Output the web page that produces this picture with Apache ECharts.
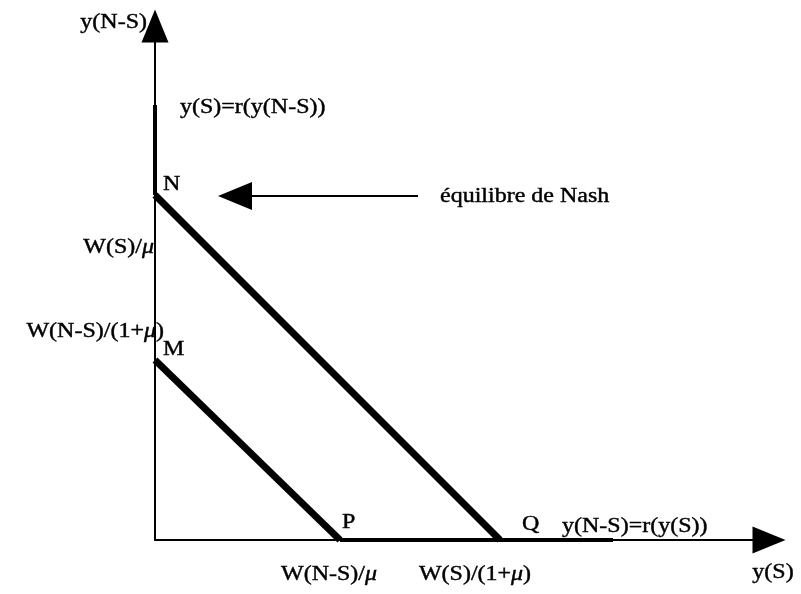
<!DOCTYPE html>
<html><head><meta charset="utf-8">
<script src="https://cdn.jsdelivr.net/npm/echarts@6/dist/echarts.min.js"></script>
<style>html,body{margin:0;padding:0;background:#fff}#c{width:801px;height:594px}</style>
</head><body><div id="c"></div>
<script>
// Diagram data (axis units)
const lineNQ = [[0, 345], [345, 0]];          // N -> Q
const lineMP = [[0, 180], [185, 0]];          // M -> P
const reactS = [[0, 345], [0, 435]];          // y(S)=r(y(N-S)) vertical part
const reactNS = [[185, 0], [458, 0]];         // y(N-S)=r(y(S)) horizontal part
const nashArrow = [[263, 344], [80, 344]];    // arrow pointing to N
// Annotation texts and anchors (axis units)
const leftTexts = ['y(S)=r(y(N-S))', 'N', 'M', 'P', 'Q', 'y(N-S)=r(y(S))', 'équilibre de Nash'];
const leftAnchors = [[25, 432], [8, 355], [8, 190], [187, 17], [367, 15], [407, 13], [285, 343]];
const rightTexts = ['y(N-S)', 'W(S)/{i|μ}', 'W(N-S)/(1+{i|μ})'];
const rightAnchors = [[-8, 517], [-1, 292], [9, 208]];
const centerTexts = ['W(N-S)/{i|μ}', 'W(S)/(1+{i|μ})', 'y(S)'];
const centerAnchors = [[174, -35], [320, -35], [618, -33]];

const FONT = "'Liberation Serif','Times New Roman',serif";
const FS = 20;
const INK = '#000';
const rich = { i: { fontStyle: 'italic', fontFamily: FONT, fontSize: FS, fill: INK,
  stroke: INK, lineWidth: 0.4 } };

function textSeries(texts, anchors, align) {
  return {
    type: 'custom', silent: true, clip: false,
    data: anchors.map((a, k) => [a[0], a[1], k]),
    renderItem: function (params, api) {
      const p = api.coord([api.value(0), api.value(1)]);
      const k = api.value(2);
      return {
        type: 'text', x: p[0], y: p[1], scaleX: 1.2, scaleY: 1,
        style: {
          text: texts[k], align: align, verticalAlign: 'middle',
          fontFamily: FONT, fontSize: FS, fill: INK,
          stroke: INK, lineWidth: 0.4, rich: rich
        }
      };
    }
  };
}
function seg(data, w) {
  return { type: 'line', data: data, symbol: 'none', silent: true, clip: false,
    lineStyle: { color: INK, width: w, cap: 'butt', join: 'miter' } };
}
const axisCommon = (max) => ({
  type: 'value', min: 0, max: max,
  axisLine: { show: true, symbol: ['none', 'triangle'], symbolSize: [27, 33],
    lineStyle: { color: INK, width: 2 } },
  axisTick: { show: false }, axisLabel: { show: false }, splitLine: { show: false }
});

const chart = echarts.init(document.getElementById('c'));
chart.setOption({
  backgroundColor: '#fff',
  animation: false,
  grid: { left: 155, right: 32, top: 26, bottom: 54 },
  xAxis: axisCommon(614),
  yAxis: axisCommon(514),
  series: [
    seg(lineNQ, 7),
    seg(lineMP, 7),
    seg(reactS, 4),
    seg(reactNS, 4),
    {
      type: 'line', data: [], silent: true,
      markLine: {
        silent: true, symbol: ['none', 'triangle'], symbolSize: [28, 34],
        label: { show: false },
        lineStyle: { color: INK, width: 2, type: 'solid' },
        data: [[{ coord: nashArrow[0] }, { coord: nashArrow[1] }]]
      }
    },
    textSeries(leftTexts, leftAnchors, 'left'),
    textSeries(rightTexts, rightAnchors, 'right'),
    textSeries(centerTexts, centerAnchors, 'center')
  ]
});
</script></body></html>
